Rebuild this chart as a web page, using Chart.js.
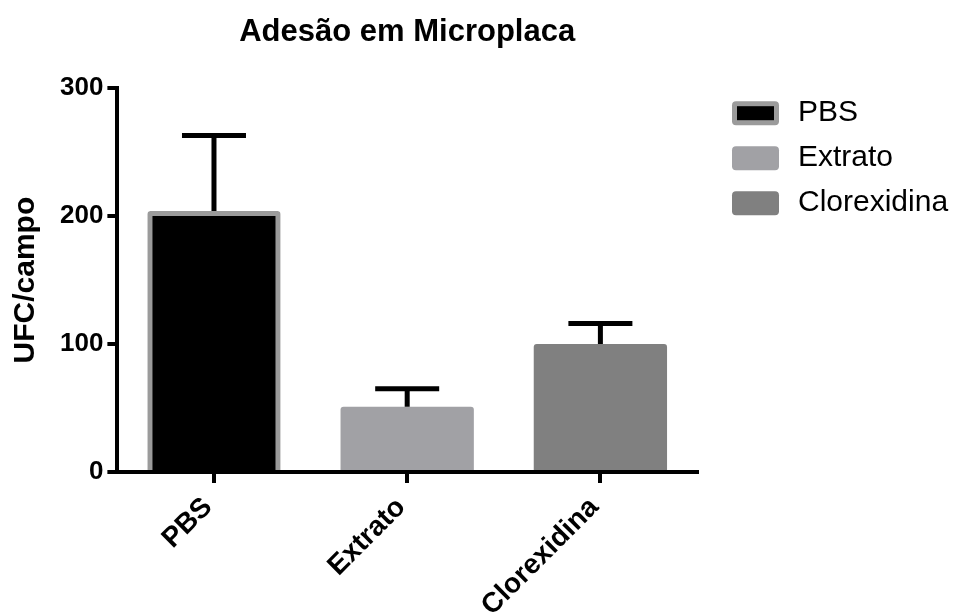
<!DOCTYPE html>
<html>
<head>
<meta charset="utf-8">
<script src="https://cdn.jsdelivr.net/npm/chart.js@4"></script>
<style>
  html, body { margin: 0; background: #fff; }
  #wrap { width: 958px; height: 613px; }
</style>
</head>
<body>
<div id="wrap"><canvas id="chart"></canvas></div>
<script>
// Data
const categories = ['PBS', 'Extrato', 'Clorexidina'];
const means = [204, 51, 100];
const errorsUp = [59, 14, 16];
const yTicks = [0, 100, 200, 300];

const fills = ['#000000', '#a1a1a5', '#808080'];
const borders = ['#9b9b9b', '#a1a1a5', '#808080'];
const borderWidths = [5, 0, 0];

const FONT = '"Liberation Sans", Arial, Helvetica, sans-serif';
Chart.defaults.font.family = FONT;
Chart.defaults.color = '#000';

// Error bars (upper only)
const errorBars = {
    id: 'errorBars',
    afterDatasetsDraw(chart) {
        const ctx = chart.ctx;
        const y = chart.scales.y;
        const meta = chart.getDatasetMeta(0);
        ctx.save();
        ctx.strokeStyle = '#000';
        ctx.lineWidth = 5;
        meta.data.forEach((bar, i) => {
            const top = y.getPixelForValue(means[i] + errorsUp[i]);
            ctx.beginPath();
            ctx.moveTo(bar.x, bar.y);
            ctx.lineTo(bar.x, top);
            ctx.moveTo(bar.x - 32, top);
            ctx.lineTo(bar.x + 32, top);
            ctx.stroke();
        });
        ctx.restore();
    }
};

// Legend on the right, drawn next to the plot area
const sideLegend = {
    id: 'sideLegend',
    afterDraw(chart) {
        const ctx = chart.ctx;
        const area = chart.chartArea;
        const x0 = area.right + 35;
        ctx.save();
        ctx.font = '30px ' + FONT;
        ctx.textBaseline = 'middle';
        categories.forEach((c, i) => {
            const top = area.top + 13 + i * 45;
            ctx.fillStyle = borders[i];
            ctx.beginPath();
            ctx.roundRect(x0, top, 47, 24, 4);
            ctx.fill();
            if (borderWidths[i]) {
                ctx.fillStyle = fills[i];
                ctx.fillRect(x0 + 5, top + 5, 37, 14);
            }
            ctx.fillStyle = '#000';
            ctx.fillText(c, x0 + 66, top + 12);
        });
        ctx.restore();
    }
};

new Chart(document.getElementById('chart'), {
    type: 'bar',
    data: {
        labels: categories,
        datasets: [{
            data: means,
            backgroundColor: fills,
            borderColor: borders,
            borderWidth: borderWidths,
            borderRadius: 3,
            borderSkipped: 'start',
            barPercentage: 0.69,
            categoryPercentage: 1
        }]
    },
    options: {
        responsive: true,
        maintainAspectRatio: false,
        animation: false,
        layout: { padding: { left: 8, right: 261, top: 0, bottom: 0 } },
        plugins: {
            tooltip: { enabled: false },
            legend: { display: false },
            title: {
                display: true,
                text: 'Adesão em Microplaca',
                fullSize: false,
                font: { size: 31, weight: 'bold' },
                padding: { top: 14, bottom: 37 }
            }
        },
        scales: {
            x: {
                offset: true,
                afterFit: axis => { axis.height = 141; },
                grid: { display: true, offset: false, drawOnChartArea: false, drawTicks: true, tickLength: 11, color: '#000', lineWidth: 4 },
                border: { color: '#000', width: 4 },
                ticks: { minRotation: 45, maxRotation: 45, padding: 8, labelOffset: -6, font: { size: 28, weight: 'bold' } }
            },
            y: {
                min: 0,
                max: 300,
                afterBuildTicks: axis => { axis.ticks = yTicks.map(v => ({ value: v })); },
                grid: { display: true, drawOnChartArea: false, drawTicks: true, tickLength: 10, color: '#000', lineWidth: 4 },
                border: { color: '#000', width: 4 },
                ticks: { padding: 4, font: { size: 26, weight: 'bold' } },
                title: {
                    display: true,
                    text: 'UFC/campo',
                    font: { size: 30, weight: 'bold' },
                    padding: { top: 0, bottom: 12 }
                }
            }
        }
    },
    plugins: [errorBars, sideLegend]
});
</script>
</body>
</html>
